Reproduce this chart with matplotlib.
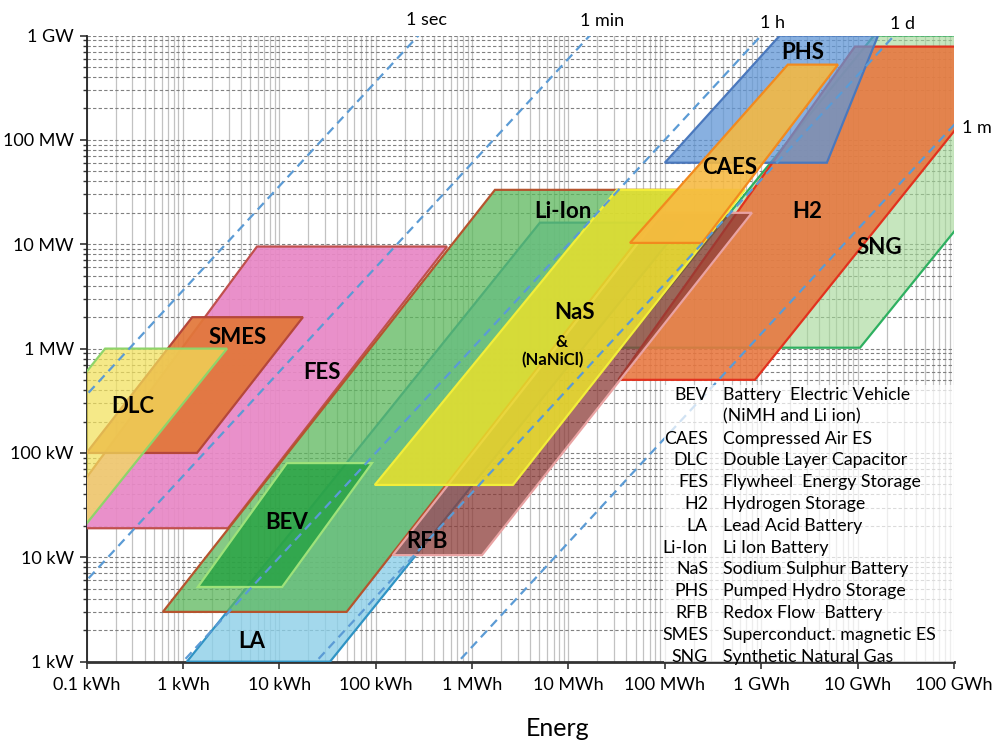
import matplotlib
matplotlib.use('Agg')
import matplotlib.pyplot as plt
from matplotlib.patches import Polygon, Rectangle
from matplotlib.ticker import LogLocator, NullFormatter, FixedLocator, FixedFormatter
import numpy as np

plt.rcParams['font.family'] = ['Lato', 'DejaVu Sans']

# ---------------- data ----------------
x_ticks = [1e-1, 1, 10, 100, 1e3, 1e4, 1e5, 1e6, 1e7, 1e8]
x_labels = ['0.1 kWh', '1 kWh', '10 kWh', '100 kWh', '1 MWh', '10 MWh',
            '100 MWh', '1 GWh', '10 GWh', '100 GWh']
y_ticks = [1, 10, 100, 1e3, 1e4, 1e5, 1e6]
y_labels = ['1 kW', '10 kW', '100 kW', '1 MW', '10 MW', '100 MW', '1 GW']

durations_h = [1 / 3600, 1 / 60, 1, 24, 720]
duration_labels = ['1 sec', '1 min', '1 h', '1 d', '1 m']

# technology areas: energy [kWh], power [kW]
sng_energy = [3.44e4, 1.06e7, 4.45e9, 1.48e7]
sng_power = [1020, 1020, 1e6, 1e6]
h2_energy = [3.28e4, 8.6e5, 5.06e8, 9.37e6]
h2_power = [502, 502, 783000, 783000]
phs_energy = [1.0e5, 4.8e6, 1.63e7, 1.56e6]
phs_power = [60400, 60400, 1e6, 1e6]
fes_energy = [0.041, 2.94, 550, 5.87]
fes_power = [19, 19, 9500, 9500]
smes_energy = [0.1, 1.4, 17.6, 1.25]
smes_power = [100, 100, 2000, 2000]
dlc_energy = [0.0054, 0.1, 2.87, 0.156]
dlc_power = [21, 21, 1000, 1000]
la_energy = [1.1, 33.6, 1.58e5, 5060]
la_power = [1, 1, 16100, 16100]
liion_energy = [0.62, 50, 1.33e5, 1728]
liion_power = [3, 3, 33200, 33200]
bev_energy = [1.43, 10.7, 91.6, 12.0]
bev_power = [5.2, 5.2, 80, 80]
rfb_energy = [151, 1268, 8.0e5, 9.3e4]
rfb_power = [10.5, 10.5, 20000, 20000]
nas_energy = [98, 2655, 6.78e5, 3.18e4]
nas_power = [49.4, 49.4, 33200, 33200]
caes_energy = [4.35e4, 2.43e5, 6.25e6, 1.89e6]
caes_power = [10300, 10300, 526000, 526000]

legend_abbr = ['BEV', '', 'CAES', 'DLC', 'FES', 'H2', 'LA', 'Li-Ion', 'NaS',
               'PHS', 'RFB', 'SMES', 'SNG']
legend_desc = ['Battery  Electric Vehicle', '(NiMH and Li ion)',
               'Compressed Air ES', 'Double Layer Capacitor',
               'Flywheel  Energy Storage', 'Hydrogen Storage',
               'Lead Acid Battery', 'Li Ion Battery', 'Sodium Sulphur Battery',
               'Pumped Hydro Storage', 'Redox Flow  Battery',
               'Superconduct. magnetic ES', 'Synthetic Natural Gas']

# (energy, power, face, edge, alpha)
areas = [
    (sng_energy, sng_power, '#a3d896', '#2eb060', 0.62),
    (h2_energy, h2_power, '#e8763e', '#e2321e', 0.88),
    (phs_energy, phs_power, '#6096d6', '#4a78bd', 0.75),
    (fes_energy, fes_power, '#e888c6', '#c0504d', 0.93),
    (smes_energy, smes_power, '#e2773a', '#b5473a', 0.93),
    (dlc_energy, dlc_power, '#f2e15a', '#8fd46a', 0.72),
    (la_energy, la_power, '#8ccfe8', '#2f93c4', 0.8),
    (liion_energy, liion_power, '#5cb85c', '#b5542e', 0.75),
    (bev_energy, bev_power, '#22a040', '#9ee27a', 0.78),
    (rfb_energy, rfb_power, '#8c3c38', '#e9a3a3', 0.75),
    (nas_energy, nas_power, '#e9e02c', '#f2ee3a', 0.85),
    (caes_energy, caes_power, '#f6b940', '#f28a1e', 0.88),
]

# label: (text, energy, power, size)
area_labels = [
    ('DLC', 0.30, 277, 16), ('SMES', 3.7, 1270, 16), ('FES', 28, 586, 16),
    ('Li-Ion', 8770, 20500, 16), ('NaS', 11700, 2200, 16),
    ('&', 8550, 1160, 12), ('(NaNiCl)', 6900, 781, 12),
    ('CAES', 4.73e5, 54100, 16), ('PHS', 2.7e6, 686000, 16),
    ('H2', 2.98e6, 20500, 16), ('SNG', 1.7e7, 9250, 16),
    ('BEV', 12, 21.4, 16), ('RFB', 340, 14.1, 16), ('LA', 5.2, 1.55, 16),
]

# ---------------- figure ----------------
W, H = 1002, 744
fig = plt.figure(figsize=(W / 100, H / 100), dpi=100)
ax_l, ax_r, ax_t, ax_b = 86.5, 954, 35.5, 661.7
ax = fig.add_axes([ax_l / W, 1 - ax_b / H, (ax_r - ax_l) / W, (ax_b - ax_t) / H])
ax.set_xscale('log')
ax.set_yscale('log')
ax.set_xlim(1e-1, 1e8)
ax.set_ylim(1, 1e6)

ax.xaxis.set_major_locator(FixedLocator(x_ticks))
ax.xaxis.set_major_formatter(FixedFormatter(x_labels))
ax.yaxis.set_major_locator(FixedLocator(y_ticks))
ax.yaxis.set_major_formatter(FixedFormatter(y_labels))
ax.xaxis.set_minor_locator(LogLocator(base=10, subs=np.arange(2, 10), numticks=50))
ax.yaxis.set_minor_locator(LogLocator(base=10, subs=np.arange(2, 10), numticks=50))
ax.xaxis.set_minor_formatter(NullFormatter())
ax.yaxis.set_minor_formatter(NullFormatter())

ax.set_axisbelow(True)
ax.grid(which='both', axis='x', color='#c2c2c2', lw=0.9, ls='-')
ax.grid(which='both', axis='y', color='#808080', lw=0.8, ls=(0, (3, 2)))

for s in ['top', 'right']:
    ax.spines[s].set_visible(False)
ax.spines['left'].set_color('#222222')
ax.spines['left'].set_linewidth(1.3)
ax.spines['bottom'].set_color('#333333')
ax.spines['bottom'].set_linewidth(2)

ax.tick_params(axis='both', which='major', labelsize=13, length=5, width=1.2,
               color='#333333', direction='out')
ax.tick_params(axis='y', which='minor', length=3, width=1.0, color='#333333')
ax.tick_params(axis='x', which='minor', length=0)
ax.tick_params(axis='x', which='major', pad=6)
ax.tick_params(axis='y', which='major', pad=4)

for i, (e, p, fc, ec, a) in enumerate(areas):
    poly = Polygon(np.column_stack([e, p]), closed=True, facecolor=fc,
                   edgecolor='none', alpha=a, zorder=3 + i)
    ax.add_patch(poly)
    edge = Polygon(np.column_stack([e, p]), closed=True, facecolor='none',
                   edgecolor=ec, lw=1.6, zorder=3 + i)
    ax.add_patch(edge)

e_line = np.logspace(-3, 11, 200)
for t in durations_h:
    ax.plot(e_line, e_line / t, color='#5b9bd5', lw=1.6, ls=(0, (4, 2.6)),
            zorder=20)

for txt, e, p, sz in area_labels:
    ax.text(e, p, txt, ha='center', va='center', fontsize=sz,
            fontweight='bold', color='black', zorder=30)

# duration labels (outside plot)
dur_pos = [(427, 20), (602, 21), (772, 23), (902, 24), (977, 128)]
for lab, (px, py) in zip(duration_labels, dur_pos):
    fig.text(px / W, 1 - py / H, lab, ha='center', va='center', fontsize=13)

# legend box
fig.patches.append(Rectangle((664 / W, 1 - 662 / H), (954 - 664) / W,
                             (662 - 385) / H, transform=fig.transFigure,
                             facecolor='white', edgecolor='none', alpha=0.72,
                             zorder=25))
row0, dy = 395, 21.8
for i, (ab, de) in enumerate(zip(legend_abbr, legend_desc)):
    y = 1 - (row0 + i * dy) / H
    fig.text(708 / W, y, ab, ha='right', va='center', fontsize=12.8, zorder=26)
    fig.text(723 / W, y, de, ha='left', va='center', fontsize=12.8, zorder=26)

fig.text(526 / W, 1 - 736 / H, 'Energ', ha='left', va='baseline', fontsize=18)

fig.savefig('out.png', dpi=100)
